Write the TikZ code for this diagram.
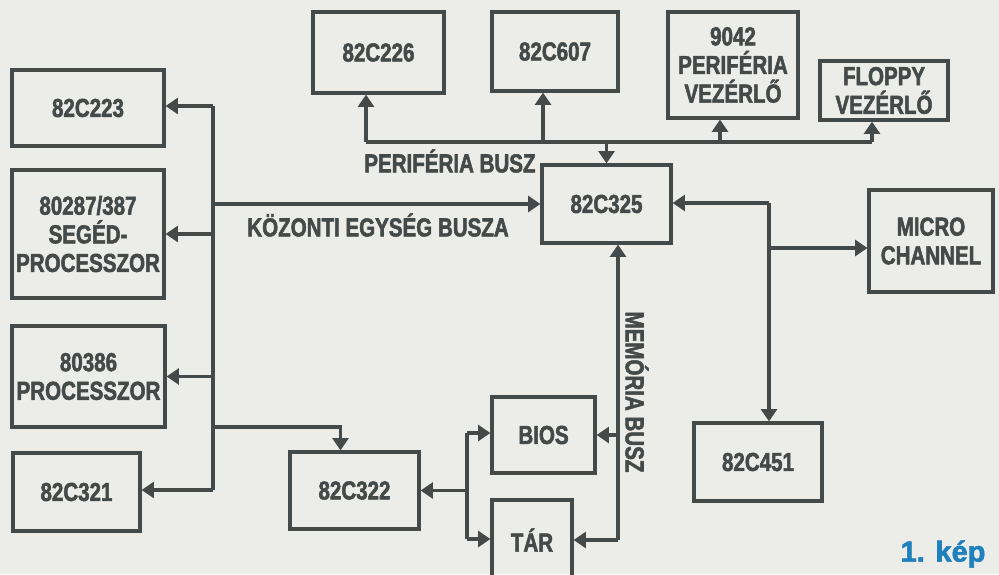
\documentclass[tikz,border=0pt]{standalone}
\usepackage{fontspec}
\usepackage{tikz}
\usetikzlibrary{arrows.meta,calc}
\newfontfamily\chipfont[FakeStretch=0.79,FakeBold=2]{Liberation Sans}
\newfontfamily\capfont[FakeBold=2]{Liberation Sans}
\definecolor{paper}{RGB}{236,236,232}
\definecolor{ink}{RGB}{68,74,74}
\definecolor{capblue}{RGB}{30,128,188}

\begin{document}
\begin{tikzpicture}[
  x=0.02cm, y=-0.02cm,
  chip/.style={rectangle,draw=ink,line width=1.8pt,inner sep=0pt,align=center,text=ink,font=\chipfont\bfseries\fontsize{14.8}{16.3}\selectfont},
  bus/.style={draw=ink,line width=1.8pt},
  arr/.style={bus,-{Triangle[width=9pt,length=7pt]}},
  buslabel/.style={text=ink,inner sep=0pt,font=\chipfont\bfseries\fontsize{14.8}{16.3}\selectfont}
]
  \fill[paper] (0,0) rectangle (999,574);
  \useasboundingbox (0,0) rectangle (999,574);
  \node[chip,minimum width=3.04cm,minimum height=1.52cm] (c223) at (88,108) {82C223};
  \node[chip,minimum width=3.04cm,minimum height=2.56cm] (c287) at (88,234) {80287/387\\SEGÉD-\\PROCESSZOR};
  \node[chip,minimum width=3.06cm,minimum height=2.02cm] (c386) at (88.5,376.5) {80386\\PROCESSZOR};
  \node[chip,minimum width=2.54cm,minimum height=1.56cm] (c321) at (76.5,492) {82C321};
  \node[chip,minimum width=2.62cm,minimum height=1.62cm] (c226) at (378.5,52.5) {82C226};
  \node[chip,minimum width=2.52cm,minimum height=1.58cm] (c607) at (555,51.5) {82C607};
  \node[chip,minimum width=2.60cm,minimum height=2.12cm] (c9042) at (733,65) {9042\\PERIFÉRIA\\VEZÉRLŐ};
  \node[chip,minimum width=2.56cm,minimum height=1.18cm] (floppy) at (884,90.5) {FLOPPY\\VEZÉRLŐ};
  \node[chip,minimum width=2.58cm,minimum height=1.56cm] (c325) at (606.5,204) {82C325};
  \node[chip,minimum width=2.48cm,minimum height=2.04cm] (micro) at (931,241) {MICRO\\CHANNEL};
  \node[chip,minimum width=2.56cm,minimum height=1.56cm] (c451) at (758,462) {82C451};
  \node[chip,minimum width=2.58cm,minimum height=1.54cm] (c322) at (354.5,490.5) {82C322};
  \node[chip,minimum width=2.06cm,minimum height=1.52cm] (bios) at (543.5,435) {BIOS};
  \node[chip,minimum width=1.60cm,minimum height=1.60cm] (tar) at (532,540) {TÁR};
  \coordinate (lbt) at (213,106);
  \coordinate (lbb) at (213,490);
  \coordinate (lbk) at (213,427);
  \coordinate (pbl) at (366,142);
  \coordinate (pbr) at (872,142);
  \coordinate (p607) at (543,142);
  \coordinate (p9042) at (720,142);
  \coordinate (rbt) at (769,203);
  \coordinate (rmc) at (769,248);
  \coordinate (mbb) at (618,540);
  \coordinate (sbt) at (467,433);
  \coordinate (sbb) at (467,539);
  \draw[bus] (lbt) -- (lbb);
  \draw[arr] (lbt) -- (lbt -| c223.east);
  \draw[arr] (lbt |- c287.east) -- (c287.east);
  \draw[arr] (lbt |- c386.east) -- (c386.east);
  \draw[arr] (lbb) -- (lbb -| c321.east);
  \draw[arr] (lbt |- c325.west) -- (c325.west);
  \draw[arr] (lbk) -| ($(c322.north)+(-14,0)$);
  \draw[bus] (pbl) -- (pbr);
  \draw[arr] (pbl) -- (pbl |- c226.south);
  \draw[arr] (p607) -- (p607 |- c607.south);
  \draw[arr] (p9042) -- (p9042 |- c9042.south);
  \draw[arr] (pbr) -- (pbr |- floppy.south);
  \draw[arr] (pbl -| c325.north) -- (c325.north);
  \draw[arr] (rbt) -- (rbt -| c325.east);
  \draw[arr] (rbt) -- (rbt |- c451.north);
  \draw[arr] (rmc) -- (rmc -| micro.west);
  \draw[arr] (mbb) -- (mbb |- c325.south);
  \draw[arr] (mbb) -- (mbb -| tar.east);
  \draw[arr] (mbb |- bios.east) -- (bios.east);
  \draw[bus] (sbt) -- (sbb);
  \draw[arr] (c322.east -| sbt) -- (c322.east);
  \draw[arr] (sbt) -- (sbt -| bios.west);
  \draw[arr] (sbb) -- (sbb -| tar.west);
  \node[buslabel,anchor=west] (lperi) at (364,161) {PERIFÉRIA BUSZ};
  \node[buslabel,anchor=west] (lkoz) at (247,225) {KÖZONTI EGYSÉG BUSZA};
  \node[buslabel,rotate=-90] (lmem) at (637,392) {MEMÓRIA BUSZ};
  \node[text=capblue,font=\capfont\bfseries\fontsize{16.5}{16.5}\selectfont] (kep) at (943,554) {1. kép};
\end{tikzpicture}
\end{document}
